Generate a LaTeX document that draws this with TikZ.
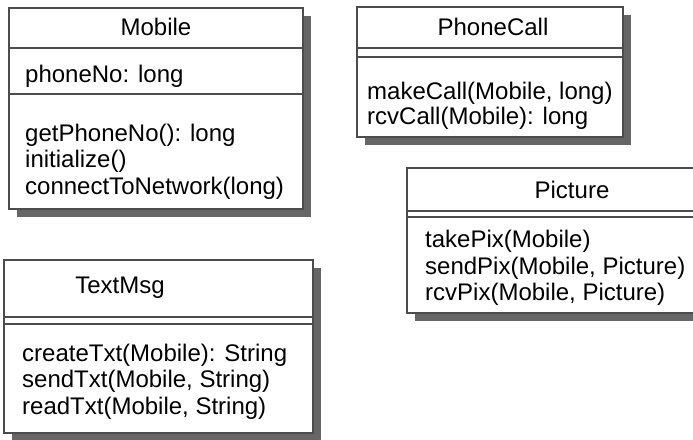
\documentclass[tikz,border=0pt]{standalone}
\usepackage{fontspec}
\setmainfont{Liberation Sans}
\usetikzlibrary{shadows}
\tikzset{
  classbox/.style={draw=black!70, line width=1.2pt, fill=white, inner sep=0pt,
    drop shadow={shadow xshift=8pt, shadow yshift=-8pt, fill=black!60, opacity=1}},
  sepline/.style={draw=black!70, line width=1.2pt},
  lbl/.style={inner sep=0pt, anchor=base west, font=\fontsize{24}{27}\selectfont},
  ttl/.style={inner sep=0pt, anchor=base, font=\fontsize{24}{27}\selectfont}
}
\begin{document}
\begin{tikzpicture}[x=1pt,y=-1pt]
\useasboundingbox (0,0) rectangle (693,439);
\clip (0,0) rectangle (693,439);
\fill[white] (0,0) rectangle (693,439);
% Mobile
\node[classbox, minimum width=294pt, minimum height=201pt] (mobile) at (156,108.5) {};
\draw[sepline] (9,48) -- (303,48);
\draw[sepline] (9,94) -- (303,94);
\node[ttl] (mobileT) at (156,35) {Mobile};
\node[lbl] (mobileA) at (25,82) {phoneNo: long};
\node[lbl] (mobileM1) at (25,141) {getPhoneNo(): long};
\node[lbl] (mobileM2) at (25,167) {initialize()};
\node[lbl] (mobileM3) at (25,194) {connectToNetwork(long)};
% PhoneCall
\node[classbox, minimum width=266pt, minimum height=130pt] (phone) at (490,72) {};
\draw[sepline] (357,48) -- (623,48);
\draw[sepline] (357,57) -- (623,57);
\node[ttl] (phoneT) at (493,35) {PhoneCall};
\node[lbl] (phoneM1) at (367,99) {makeCall(Mobile, long)};
\node[lbl] (phoneM2) at (367,124) {rcvCall(Mobile): long};
% Picture
\node[classbox, minimum width=293pt, minimum height=145pt] (pict) at (553.5,240.5) {};
\draw[sepline] (407,211) -- (700,211);
\draw[sepline] (407,217) -- (700,217);
\node[ttl] (pictT) at (572,198) {Picture};
\node[lbl] (pictM1) at (425,247) {takePix(Mobile)};
\node[lbl] (pictM2) at (425,274) {sendPix(Mobile, Picture)};
\node[lbl] (pictM3) at (425,300) {rcvPix(Mobile, Picture)};
% TextMsg
\node[classbox, minimum width=309pt, minimum height=173pt] (txt) at (158.5,346.5) {};
\draw[sepline] (4,317) -- (313,317);
\draw[sepline] (4,324) -- (313,324);
\node[ttl] (txtT) at (120,293) {TextMsg};
\node[lbl] (txtM1) at (22,361) {createTxt(Mobile): String};
\node[lbl] (txtM2) at (22,387) {sendTxt(Mobile, String)};
\node[lbl] (txtM3) at (22,414) {readTxt(Mobile, String)};
\end{tikzpicture}
\end{document}
